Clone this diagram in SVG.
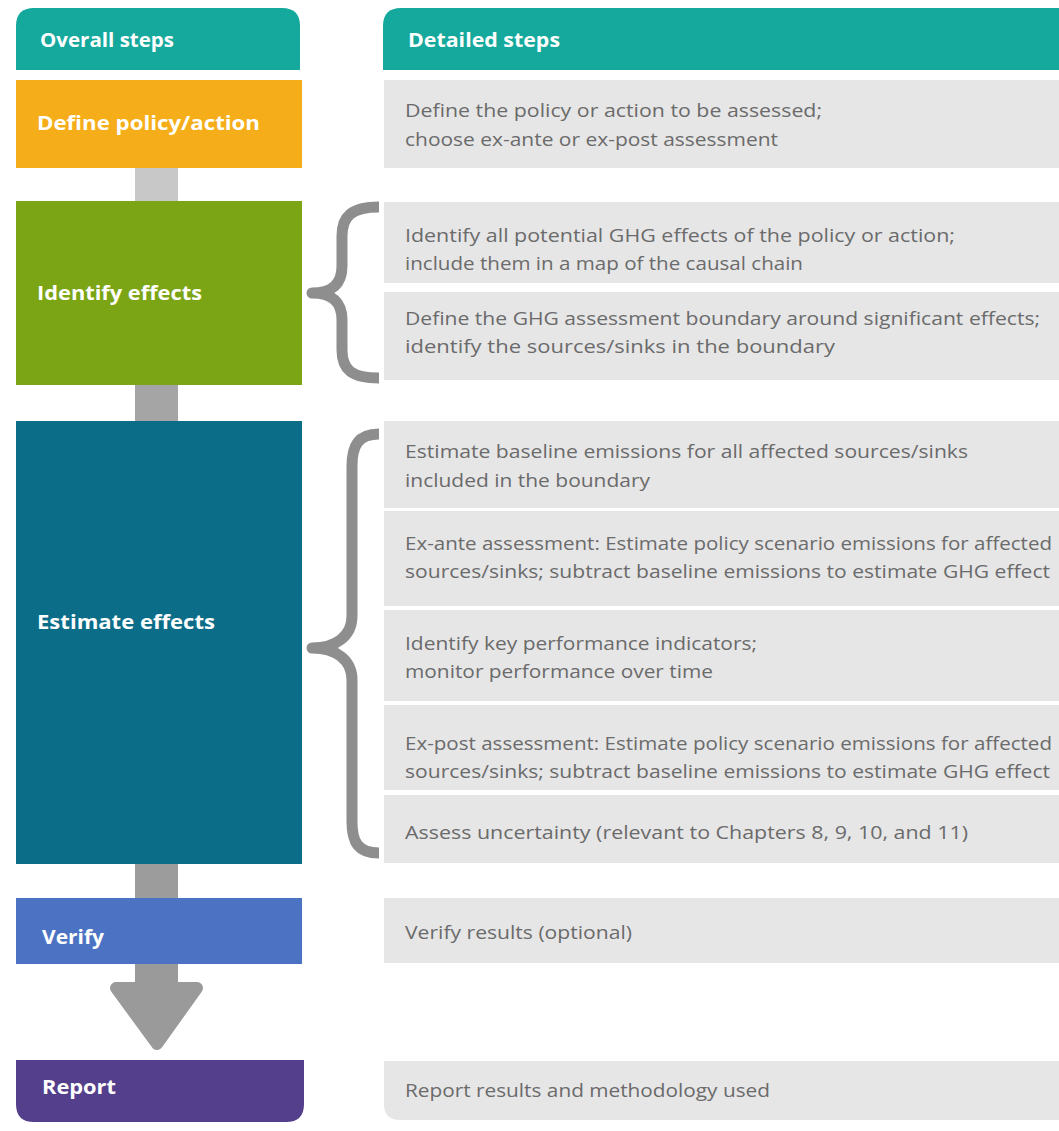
<svg xmlns="http://www.w3.org/2000/svg" width="1059" height="1131" viewBox="0 0 1059 1131">
<style>
.lbl{font-family:"Open Sans","Liberation Sans",sans-serif;font-weight:700;font-size:20px;fill:#ffffff}
.det{font-family:"Open Sans","Liberation Sans",sans-serif;font-size:18px;fill:#6b6b6b}
.gbox{fill:#e6e6e7}
.brace{fill:none;stroke:#8e8e8e;stroke-width:11;stroke-linejoin:round}
</style>
<rect width="1059" height="1131" fill="#ffffff"/>
<g id="connectors">
<rect x="135" y="167" width="43" height="35" fill="#c8c8c8"/>
<rect x="135" y="384" width="43" height="38" fill="#a5a5a5"/>
<rect x="135" y="863" width="43" height="36" fill="#9c9c9c"/>
<rect x="135" y="963" width="43" height="26" fill="#9a9a9a"/>
<polygon points="116,988 197,988 157,1044" fill="#9a9a9a" stroke="#9a9a9a" stroke-width="12" stroke-linejoin="round"/>
<path class="brace" d="M379,207 C352,207 342,216 342,236 L342,266 C342,284 332,293 312,293 C332,293 342,302 342,320 L342,350 C342,370 352,378 379,378"/>
<path class="brace" d="M379,434 C358,434 352,446 352,466 L352,616 C352,636 336,648 312,648 C336,648 352,660 352,680 L352,822 C352,842 358,853 379,853"/>
</g>
<g id="header-overall">
<path d="M16,70 L16,26 Q16,8 34,8 L282,8 Q300,8 300,26 L300,70 Z" fill="#14a99c"/>
<text class="lbl" x="40" y="47" textLength="134" lengthAdjust="spacingAndGlyphs">Overall steps</text>
</g>
<g id="header-detailed">
<path d="M383,70 L383,26 Q383,8 401,8 L1059,8 L1059,70 Z" fill="#14a99c"/>
<text class="lbl" x="408" y="47" textLength="152" lengthAdjust="spacingAndGlyphs">Detailed steps</text>
</g>
<g id="define">
<rect x="16" y="80" width="286" height="88" fill="#f5ae19"/>
<text class="lbl" x="37" y="130" textLength="223" lengthAdjust="spacingAndGlyphs">Define policy/action</text>
</g>
<g id="identify">
<rect x="16" y="201" width="286" height="184" fill="#7ba515"/>
<text class="lbl" x="37" y="300" textLength="165" lengthAdjust="spacingAndGlyphs">Identify effects</text>
</g>
<g id="estimate">
<rect x="16" y="421" width="286" height="443" fill="#0c6d89"/>
<text class="lbl" x="37" y="629" textLength="178" lengthAdjust="spacingAndGlyphs">Estimate effects</text>
</g>
<g id="verify">
<rect x="16" y="898" width="286" height="66" fill="#4c73c3"/>
<text class="lbl" x="42" y="944" textLength="62" lengthAdjust="spacingAndGlyphs">Verify</text>
</g>
<g id="report">
<path d="M16,1060 L304,1060 L304,1104 Q304,1122 286,1122 L34,1122 Q16,1122 16,1104 Z" fill="#533f8b"/>
<text class="lbl" x="42" y="1094" textLength="74" lengthAdjust="spacingAndGlyphs">Report</text>
</g>
<g id="d-define">
<rect class="gbox" x="384" y="80" width="675" height="88"/>
<text class="det" x="405" y="117" textLength="417" lengthAdjust="spacingAndGlyphs">Define the policy or action to be assessed;</text>
<text class="det" x="405" y="146" textLength="373" lengthAdjust="spacingAndGlyphs">choose ex-ante or ex-post assessment</text>
</g>
<g id="d-identify1">
<rect class="gbox" x="384" y="202" width="675" height="81"/>
<text class="det" x="405" y="242" textLength="550" lengthAdjust="spacingAndGlyphs">Identify all potential GHG effects of the policy or action;</text>
<text class="det" x="405" y="270" textLength="398" lengthAdjust="spacingAndGlyphs">include them in a map of the causal chain</text>
</g>
<g id="d-identify2">
<rect class="gbox" x="384" y="292" width="675" height="88"/>
<text class="det" x="405" y="325" textLength="635" lengthAdjust="spacingAndGlyphs">Define the GHG assessment boundary around significant effects;</text>
<text class="det" x="405" y="353" textLength="430" lengthAdjust="spacingAndGlyphs">identify the sources/sinks in the boundary</text>
</g>
<g id="d-baseline">
<rect class="gbox" x="384" y="421" width="675" height="87"/>
<text class="det" x="405" y="458" textLength="563" lengthAdjust="spacingAndGlyphs">Estimate baseline emissions for all affected sources/sinks</text>
<text class="det" x="405" y="487" textLength="245" lengthAdjust="spacingAndGlyphs">included in the boundary</text>
</g>
<g id="d-exante">
<rect class="gbox" x="384" y="511" width="675" height="95"/>
<text class="det" x="405" y="550" textLength="647" lengthAdjust="spacingAndGlyphs">Ex-ante assessment: Estimate policy scenario emissions for affected</text>
<text class="det" x="405" y="578" textLength="645" lengthAdjust="spacingAndGlyphs">sources/sinks; subtract baseline emissions to estimate GHG effect</text>
</g>
<g id="d-kpi">
<rect class="gbox" x="384" y="610" width="675" height="91"/>
<text class="det" x="405" y="650" textLength="352" lengthAdjust="spacingAndGlyphs">Identify key performance indicators;</text>
<text class="det" x="405" y="678" textLength="308" lengthAdjust="spacingAndGlyphs">monitor performance over time</text>
</g>
<g id="d-expost">
<rect class="gbox" x="384" y="705" width="675" height="85"/>
<text class="det" x="405" y="750" textLength="647" lengthAdjust="spacingAndGlyphs">Ex-post assessment: Estimate policy scenario emissions for affected</text>
<text class="det" x="405" y="778" textLength="645" lengthAdjust="spacingAndGlyphs">sources/sinks; subtract baseline emissions to estimate GHG effect</text>
</g>
<g id="d-uncertainty">
<rect class="gbox" x="384" y="795" width="675" height="68"/>
<text class="det" x="405" y="839" textLength="563" lengthAdjust="spacingAndGlyphs">Assess uncertainty (relevant to Chapters 8, 9, 10, and 11)</text>
</g>
<g id="d-verify">
<rect class="gbox" x="384" y="898" width="675" height="65"/>
<text class="det" x="405" y="939" textLength="227" lengthAdjust="spacingAndGlyphs">Verify results (optional)</text>
</g>
<g id="d-report">
<path class="gbox" d="M384,1061 L1059,1061 L1059,1120 L400,1120 Q384,1120 384,1104 Z"/>
<text class="det" x="405" y="1097" textLength="365" lengthAdjust="spacingAndGlyphs">Report results and methodology used</text>
</g>
</svg>
